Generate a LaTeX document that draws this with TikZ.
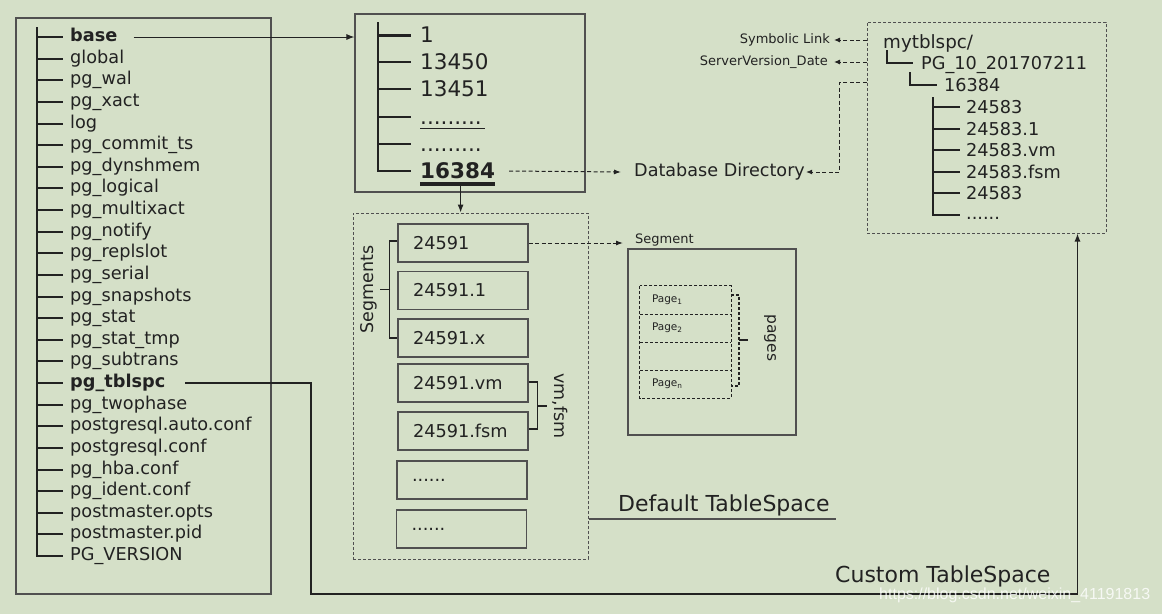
\documentclass[tikz,border=0pt]{standalone}
\usepackage{fontspec}
\setmainfont{DejaVu Sans}
\newfontfamily\wmfont{Liberation Sans}
\usetikzlibrary{arrows.meta,calc}
\definecolor{bg}{RGB}{213,224,200}
\definecolor{ink}{RGB}{34,34,34}
\definecolor{frame}{RGB}{80,80,80}
\newcommand\fsz[1]{\fontsize{#1}{#1}\selectfont}
\tikzset{
 lt/.style={anchor=west, inner sep=0pt, text height=13pt, text depth=4pt, font=\fsz{17.7}, text=ink},
 mt/.style={anchor=west, inner sep=0pt, text height=15.7pt, text depth=0pt, font=\fsz{21.5}, text=ink},
 rt/.style={anchor=west, inner sep=0pt, text height=13pt, text depth=0pt, font=\fsz{17.7}, text=ink},
 tl/.style={line width=2pt, draw=ink},
 frm/.style={draw=frame, line width=1.3pt, inner sep=0pt},
 dfrm/.style={draw=frame, line width=1pt, dash pattern=on 3pt off 2pt, inner sep=0pt},
 arr/.style={draw=ink, line width=1pt, -{Latex[length=8pt,width=6pt]}},
 darr/.style={draw=ink, line width=1pt, dash pattern=on 4pt off 2.5pt, -{Latex[length=7pt,width=5pt]}},
 plain/.style={draw=ink, line width=1.1pt},
 fbox/.style={draw=frame, line width=1.2pt, minimum height=38pt, text width=100pt, inner xsep=15pt, inner ysep=0pt, align=left, font=\fsz{17.7}, text=ink},
 pbox/.style={inner sep=0pt, minimum height=28pt, text width=67pt, inner xsep=12pt, align=left, font=\fsz{10.5}, text=ink},
 pdash/.style={draw=ink, line width=1.2pt, dash pattern=on 3pt off 2pt},
 lbl/.style={inner sep=0pt, text=ink},
}
\begin{document}
\begin{tikzpicture}[x=1pt,y=-1pt]
\fill[bg] (0,0) rectangle (1162,614);
\useasboundingbox (0,0) rectangle (1162,614);

% ---------- left directory box ----------
\node[frm, minimum width=255pt, minimum height=576pt] (leftbox) at (143.5,306) {};
\draw[tl] (37,27) -- (37,557);
\foreach \t [count=\i from 0] in {\textbf{base}, global, pg\_wal, pg\_xact, log, pg\_commit\_ts, pg\_dynshmem, pg\_logical, pg\_multixact, pg\_notify, pg\_replslot, pg\_serial, pg\_snapshots, pg\_stat, pg\_stat\_tmp, pg\_subtrans, \textbf{pg\_tblspc}, pg\_twophase, postgresql.auto.conf, postgresql.conf, pg\_hba.conf, pg\_ident.conf, postmaster.opts, postmaster.pid, PG\_VERSION} {
  \pgfmathsetmacro\yy{int(37.5+\i*21.625)}
  \node[lt] (L\i) at (70,\yy) {\t};
  \draw[tl] (36,\yy) -- (63,\yy);
}

% ---------- base directory box ----------
\node[frm, line width=1.1pt, minimum width=230pt, minimum height=178pt] (midbox) at (470,103) {};
\draw[tl] (378,22) -- (378,172);
\draw[ink, line width=3pt] (377,35) -- (411,35);
\foreach \yy in {62,89,117,144,171} { \draw[tl] (377,\yy) -- (411,\yy); }
\node[mt] (M0) at (420,35) {1};
\node[mt] (M1) at (420,62) {13450};
\node[mt] (M2) at (420,89) {13451};
\node[mt] (M3) at (420,117) {.........};
\node[mt] (M4) at (420,144) {.........};
\node[mt] (M5) at (420,171) {\textbf{16384}};
\draw[ink, line width=1pt] (M3.south west) ++(0,3) -- ++(65,0);
\draw[ink, line width=3.5pt] ([yshift=-5pt]M5.south west) -- ([yshift=-5pt]M5.south east);

\draw[arr] ([xshift=16pt]L0.east) -- (midbox.west |- L0.west);

% ---------- segments box ----------
\node[dfrm, minimum width=235pt, minimum height=346pt] (segbox) at (470.5,386) {};
\draw[arr] ([xshift=3pt,yshift=-7pt]M5.south) -- ([xshift=3pt]M5.south |- segbox.north);

\node[fbox] (S1) at (463,243) {24591};
\node[fbox] (S2) at (463,290.5) {24591.1};
\node[fbox] (S3) at (463,338) {24591.x};
\node[fbox] (S4) at (463,383) {24591.vm};
\node[fbox] (S5) at (463,431) {24591.fsm};
\node[fbox] (S6) at (462,480) {......};
\node[fbox] (S7) at (461.5,529) {......};

\draw[plain] ([yshift=2pt]S1.west) -- ++(-8,0) |- (S3.west);
\draw[plain] (390,289.5) -- (380,289.5);
\node[lbl, rotate=90, font=\fsz{17.5}] (segtxt) at (369,289.5) {Segments};

\draw[plain] ([yshift=1pt]S4.east) -- ++(9,0) |- ([yshift=2pt]S5.east);
\draw[plain] (537,406) -- (547,406);
\node[lbl, rotate=-90, font=\fsz{17.5}] (vmtxt) at (560,406) {vm,fsm};

% ---------- segment / pages ----------
\node[lbl, anchor=west, font=\fsz{13}] (seglbl) at (635,240) {Segment};
\draw[darr] (S1.east) -- ([xshift=-12pt]seglbl.west |- S1.east);
\node[frm, line width=1.1pt, minimum width=168pt, minimum height=186pt] (segrect) at (712,342) {};
\node[pbox] (P1) at (685.5,300) {Page\textsubscript{1}};
\node[pbox] (P2) at (685.5,328) {Page\textsubscript{2}};
\node[pbox] (P3) at (685.5,356) {};
\node[pbox] (P4) at (685.5,384) {Page\textsubscript{n}};
\draw[pdash] (P1.north west) rectangle (P4.south east);
\draw[pdash] (P1.south west) -- (P1.south east);
\draw[pdash] (P2.south west) -- (P2.south east);
\draw[pdash] (P3.south west) -- (P3.south east);
\draw[pdash] (731,295) -- (739,295) -- (739,386) -- (731,386);
\draw[draw=ink, line width=1.2pt] (739,340) -- (748,340);
\node[lbl, rotate=-90, font=\fsz{15.5}] (pgtxt) at (770,338) {pages};

% ---------- database directory ----------
\node[lbl, anchor=west, font=\fsz{17.6}] (DD) at (634,172) {Database Directory};
\draw[darr] ([xshift=14pt]M5.east) -- ([xshift=-13pt]DD.west);

% ---------- custom tablespace box ----------
\node[dfrm, minimum width=239pt, minimum height=211pt] (rbox) at (986.5,127.5) {};
\node[lbl, anchor=west, font=\fsz{18.3}] (R0) at (883,43) {mytblspc/};
\draw[tl, line width=1.5pt] (887,50) -- (887,63) -- (913,63);
\node[rt] (R1) at (921,63) {PG\_10\_201707211};
\draw[tl, line width=1.5pt] (910,72) -- (910,85) -- (937,85);
\node[rt] (R2) at (944,85) {16384};
\draw[tl] (933,97) -- (933,216);
\foreach \t [count=\i from 0] in {24583, 24583.1, 24583.vm, 24583.fsm, 24583} {
  \pgfmathsetmacro\yy{int(107.5+\i*21.5)}
  \node[rt] (F\i) at (966,\yy) {\t};
  \draw[tl] (932,\yy) -- (960,\yy);
}
\draw[tl] (932,215) -- (960,215);
\node[rt] (F5) at (966,213) {......};

\node[lbl, anchor=east, font=\fsz{13}] (SL) at (830,40) {Symbolic Link};
\node[lbl, anchor=east, font=\fsz{13}] (SV) at (828,62) {ServerVersion\_Date};
\draw[darr, -{Latex[length=6pt,width=5pt]}] (rbox.west |- SL.east) -- ([xshift=4pt]SL.east);
\draw[darr, -{Latex[length=6pt,width=5pt]}] (rbox.west |- SV.east) -- ([xshift=6pt]SV.east);
\draw[darr, -{Latex[length=6pt,width=5pt]}] ($(rbox.north west)+(0,61)$) -| ($(DD.east)+(34,0)$) -- ([xshift=1pt]DD.east);

% ---------- tablespace labels ----------
\node[lbl, anchor=base west, font=\fsz{22}] (DT) at (618,511) {Default TableSpace};
\draw[draw=frame, line width=1.2pt] (segbox.east |- 0,519) -- (836,519);
\node[lbl, anchor=base west, font=\fsz{22}] (CT) at (835,582) {Custom TableSpace};
\coordinate (c1) at (311,594);
\draw[draw=ink, line width=1.2pt, -{Latex[length=8pt,width=6pt]}] ([xshift=20pt]L16.east) -| (c1) -| ($(rbox.south east)+(-29,0)$);

% ---------- watermark ----------
\node[lbl, anchor=west, font=\wmfont\fsz{16}, text=white, text opacity=0.8] (wm) at (879,595) {https://blog.csdn.net/weixin\_41191813};
\end{tikzpicture}
\end{document}
